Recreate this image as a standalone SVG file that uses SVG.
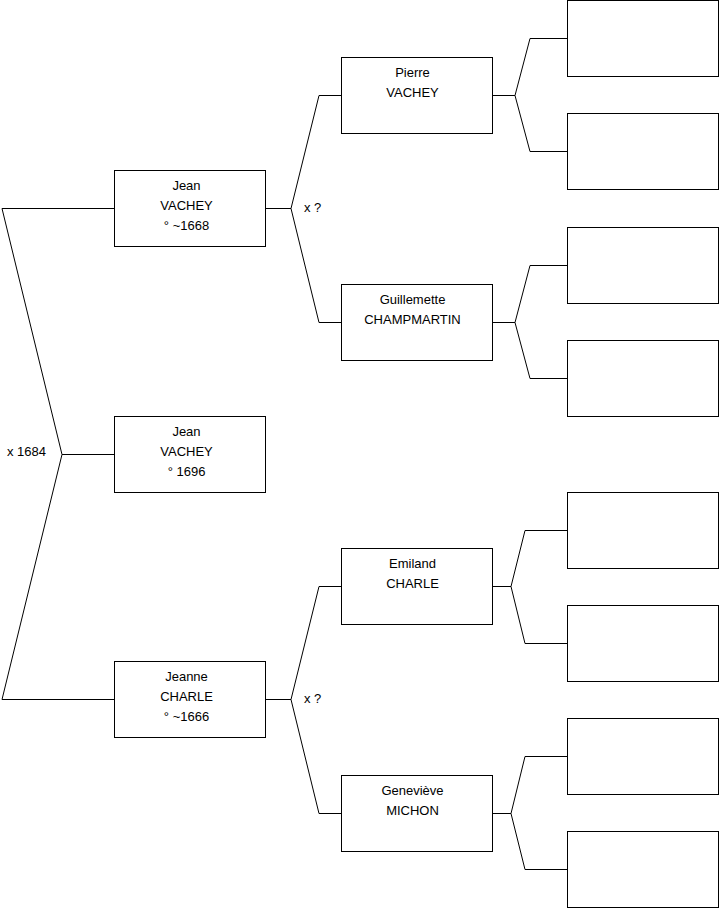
<svg xmlns="http://www.w3.org/2000/svg" width="719" height="908" viewBox="0 0 719 908">
<style>
.box{fill:#fff;stroke:#000;stroke-width:1}
.c{fill:none;stroke:#000;stroke-width:1}
text{font-family:"Liberation Sans",Arial,sans-serif;font-size:13px;fill:#000}
.m{text-anchor:middle}
</style>
<rect width="719" height="908" fill="#fff"/>
<g id="connectors">
<path class="c" d="M114,208.5 H2 L62,454.5 H114 M62,454.5 L2,699.5 H114"/>
<path class="c" d="M265,208.5 H291 L319,95.5 H341 M291,208.5 L319,322.5 H341"/>
<path class="c" d="M265,699.5 H291 L319,586.5 H341 M291,699.5 L319,813.5 H341"/>
<path class="c" d="M492,95.5 H515 L530,38.5 H567 M515,95.5 L530,151.5 H567"/>
<path class="c" d="M492,322.5 H515 L530,265.5 H567 M515,322.5 L530,378.5 H567"/>
<path class="c" d="M492,586.5 H511 L525,530.5 H567 M511,586.5 L525,643.5 H567"/>
<path class="c" d="M492,813.5 H511 L525,756.5 H567 M511,813.5 L525,869.5 H567"/>
<text x="7" y="456">x 1684</text>
<text x="304" y="212">x ?</text>
<text x="304" y="703">x ?</text>
</g>
<g id="jean-vachey-1668"><rect class="box" x="114.5" y="170.5" width="151" height="76"/>
<text class="m" x="186.5" y="190">Jean</text><text class="m" x="186.5" y="210">VACHEY</text><text class="m" x="186.5" y="230">° ~1668</text></g>
<g id="jean-vachey-1696"><rect class="box" x="114.5" y="416.5" width="151" height="76"/>
<text class="m" x="186.5" y="436">Jean</text><text class="m" x="186.5" y="456">VACHEY</text><text class="m" x="186.5" y="476">° 1696</text></g>
<g id="jeanne-charle"><rect class="box" x="114.5" y="661.5" width="151" height="76"/>
<text class="m" x="186.5" y="681">Jeanne</text><text class="m" x="186.5" y="701">CHARLE</text><text class="m" x="186.5" y="721">° ~1666</text></g>
<g id="pierre-vachey"><rect class="box" x="341.5" y="57.5" width="151" height="76"/>
<text class="m" x="412.5" y="77">Pierre</text><text class="m" x="412.5" y="97">VACHEY</text></g>
<g id="guillemette-champmartin"><rect class="box" x="341.5" y="284.5" width="151" height="76"/>
<text class="m" x="412.5" y="304">Guillemette</text><text class="m" x="412.5" y="324">CHAMPMARTIN</text></g>
<g id="emiland-charle"><rect class="box" x="341.5" y="548.5" width="151" height="76"/>
<text class="m" x="412.5" y="568">Emiland</text><text class="m" x="412.5" y="588">CHARLE</text></g>
<g id="genevieve-michon"><rect class="box" x="341.5" y="775.5" width="151" height="76"/>
<text class="m" x="412.5" y="795">Geneviève</text><text class="m" x="412.5" y="815">MICHON</text></g>
<g id="p1"><rect class="box" x="567.5" y="0.5" width="151" height="76"/></g>
<g id="p2"><rect class="box" x="567.5" y="113.5" width="151" height="76"/></g>
<g id="p3"><rect class="box" x="567.5" y="227.5" width="151" height="76"/></g>
<g id="p4"><rect class="box" x="567.5" y="340.5" width="151" height="76"/></g>
<g id="p5"><rect class="box" x="567.5" y="492.5" width="151" height="76"/></g>
<g id="p6"><rect class="box" x="567.5" y="605.5" width="151" height="76"/></g>
<g id="p7"><rect class="box" x="567.5" y="718.5" width="151" height="76"/></g>
<g id="p8"><rect class="box" x="567.5" y="831.5" width="151" height="76"/></g>
</svg>
